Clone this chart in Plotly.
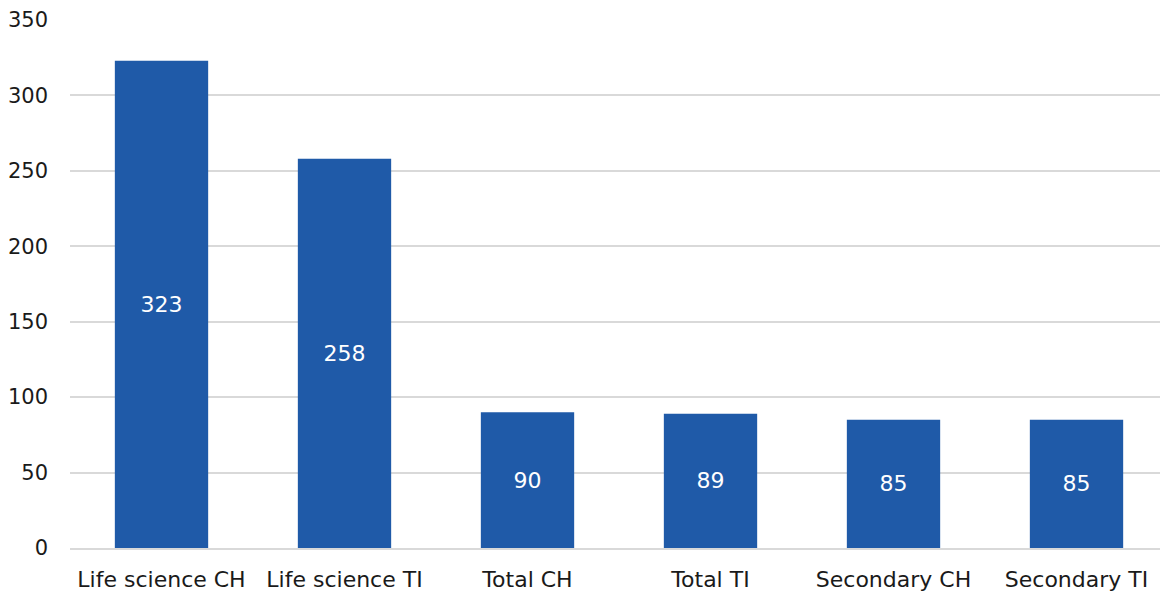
import plotly.graph_objects as go

categories = ["Life science CH", "Life science TI", "Total CH", "Total TI", "Secondary CH", "Secondary TI"]
values = [323, 258, 90, 89, 85, 85]
tick_vals = [0, 50, 100, 150, 200, 250, 300, 350]

FONT = "DejaVu Sans"

fig = go.Figure(go.Bar(
    x=categories, y=values,
    marker=dict(color="#1F5AA8", line=dict(width=0)),
    text=[str(v) for v in values],
    textposition="inside", insidetextanchor="middle",
    textfont=dict(color="white", size=22, family=FONT),
    hoverinfo="skip",
))
fig.update_layout(
    width=1160, height=588,
    margin=dict(l=62, r=0, t=12, b=48),
    paper_bgcolor="white", plot_bgcolor="white",
    bargap=0.49, showlegend=False,
    font=dict(family=FONT, size=22, color="#1a1a1a"),
)
fig.update_xaxes(showgrid=False, showline=True, linecolor="#D9D9D9", linewidth=2,
                 ticks="", ticklabelstandoff=11, tickfont=dict(size=22), automargin=False)
fig.update_yaxes(range=[0, 350], tickvals=tick_vals, showgrid=True, gridcolor="#D9D9D9",
                 gridwidth=1.5, zeroline=False, showline=False, ticks="",
                 ticklabelstandoff=21, tickfont=dict(size=21), automargin=False)
fig.write_html("out.html")
